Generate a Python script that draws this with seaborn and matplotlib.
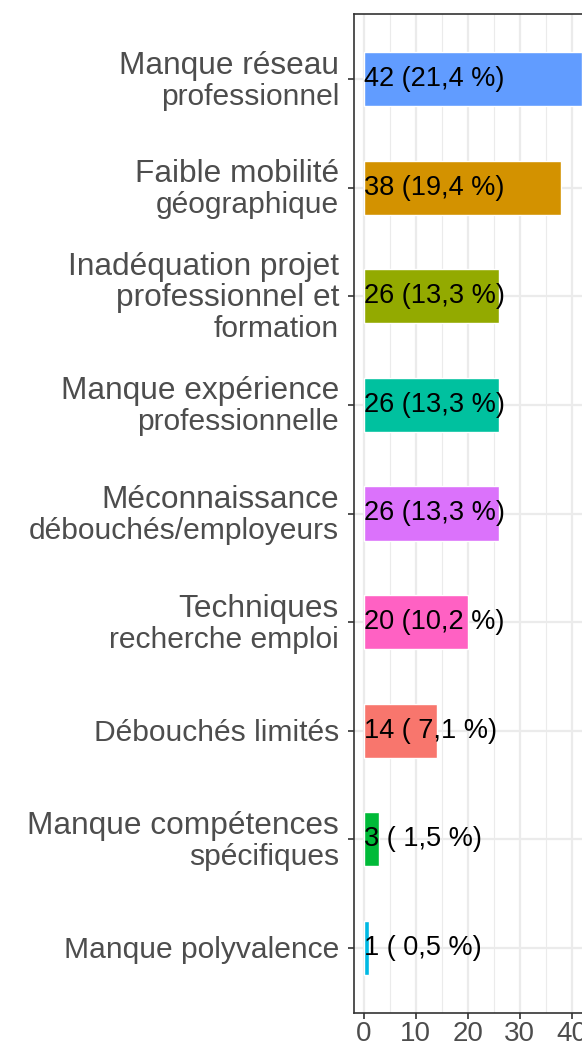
import matplotlib
matplotlib.use("Agg")
import matplotlib.pyplot as plt
import seaborn as sns
from matplotlib.ticker import MultipleLocator

# valeurs (de haut en bas)
categories = [
    "Manque réseau\nprofessionnel",
    "Faible mobilité\ngéographique",
    "Inadéquation projet\nprofessionnel et\nformation",
    "Manque expérience\nprofessionnelle",
    "Méconnaissance\ndébouchés/employeurs",
    "Techniques\nrecherche emploi",
    "Débouchés limités",
    "Manque compétences\nspécifiques",
    "Manque polyvalence",
]
counts = [42, 38, 26, 26, 26, 20, 14, 3, 1]
percents = [21.4, 19.4, 13.3, 13.3, 13.3, 10.2, 7.1, 1.5, 0.5]
colors = ["#619CFF", "#D39200", "#93AA00", "#00C19F", "#DB72FB",
          "#FF61C3", "#F8766D", "#00BA38", "#00B9E3"]

sns.set_style("white")
plt.rcParams["font.family"] = ["Liberation Sans", "DejaVu Sans"]

fig = plt.figure(figsize=(5.82, 10.48), dpi=100)
ax = fig.add_axes([354 / 582, 35 / 1048, 239 / 582, 999 / 1048])

sns.barplot(x=counts, y=categories, hue=categories, palette=colors,
            orient="h", width=0.5, legend=False, ax=ax, saturation=1)

n = len(categories)
for i, (c, p) in enumerate(zip(counts, percents)):
    lab = f"{c} ({p:4.1f} %)".replace(".", ",")
    ax.text(0, i, lab, ha="left", va="center", fontsize=19.5, color="black")

ax.set_xlim(-1.9, 44.1)
ax.set_ylim(n - 1 + 0.6, -0.6)
ax.xaxis.set_major_locator(MultipleLocator(10))
ax.xaxis.set_minor_locator(MultipleLocator(5))
ax.grid(True, which="major", axis="both", color="#EBEBEB", linewidth=1.6)
ax.grid(True, which="minor", axis="x", color="#EBEBEB", linewidth=0.8)
ax.set_axisbelow(True)

ax.tick_params(axis="both", which="major", length=4, width=1.2, color="#333333",
               labelcolor="#4D4D4D", pad=2, left=True, bottom=True)
ax.tick_params(axis="x", which="major", labelsize=20)
ax.tick_params(axis="x", which="minor", length=0)

# étiquettes de l'axe y dessinées ligne par ligne (lignes du haut plus larges)
ax.set_yticks(range(n))
ax.set_yticklabels([""] * n)
pitch = 31
for i, cat in enumerate(categories):
    lines = cat.split("\n")
    k = len(lines)
    for j, line in enumerate(lines):
        dy = -10 + ((k - 1) / 2 - j) * pitch
        size = 21.6 if j == k - 1 else 22.8
        ax.annotate(line, xy=(0, i), xycoords=("axes fraction", "data"),
                    xytext=(-15, dy), textcoords="offset pixels",
                    ha="right", va="baseline", fontsize=size, color="#4D4D4D",
                    annotation_clip=False)

for s in ax.spines.values():
    s.set_color("#333333")
    s.set_linewidth(1.2)
ax.set_xlabel("")
ax.set_ylabel("")

fig.savefig("out.png", dpi=100)
